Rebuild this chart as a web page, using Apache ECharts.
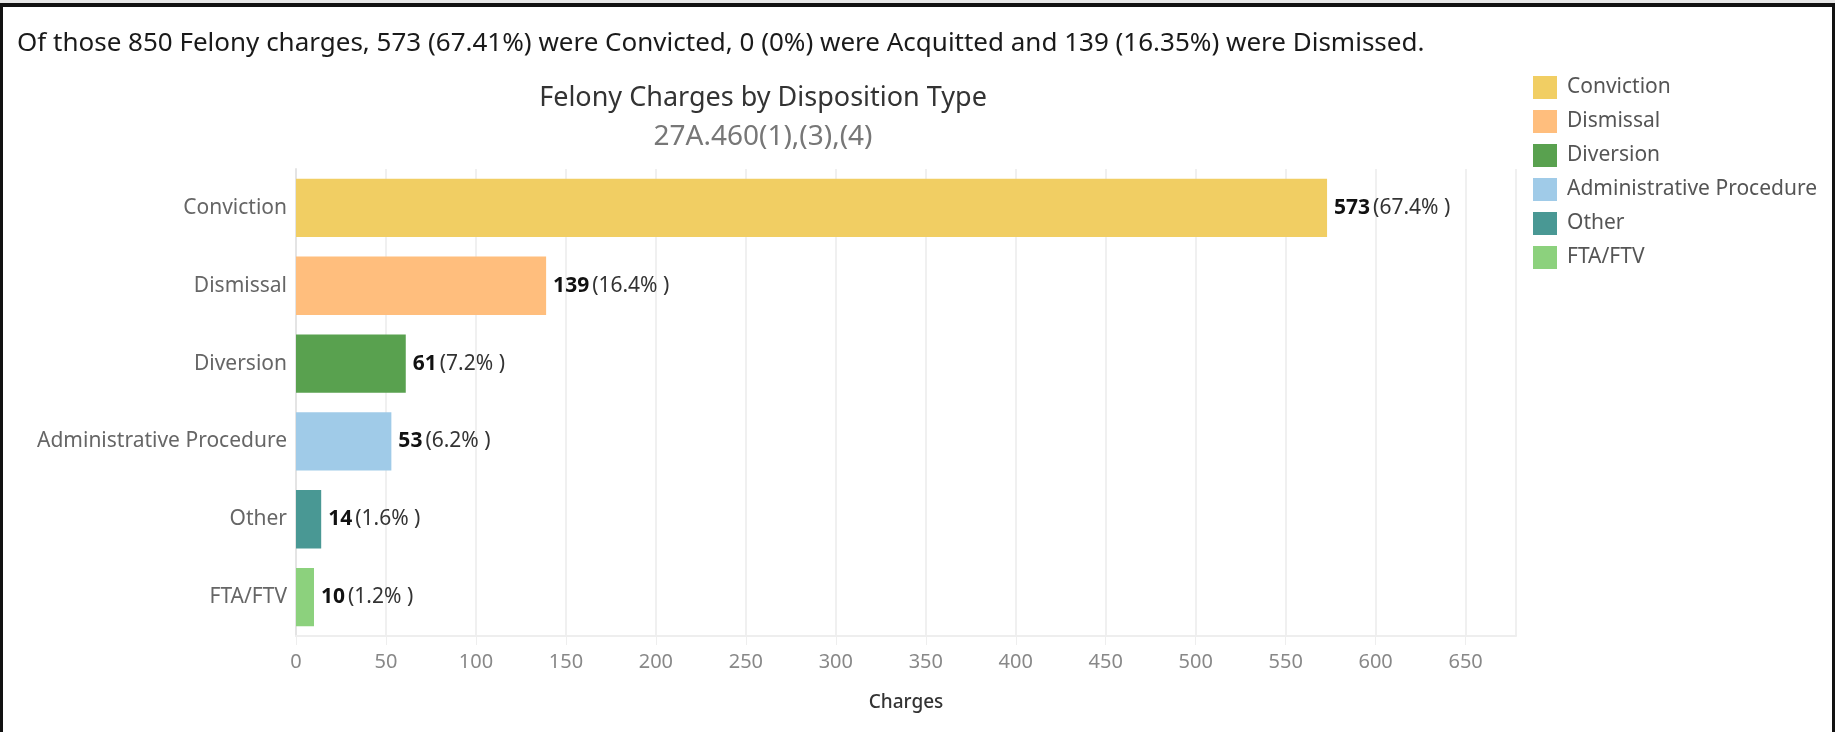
<!DOCTYPE html>
<html>
<head>
<meta charset="utf-8">
<title>Felony Charges by Disposition Type</title>
<script src="https://cdn.jsdelivr.net/npm/echarts@6/dist/echarts.min.js"></script>
<style>
    html, body { margin: 0; padding: 0; background: #fff; }
    #wrap { position: relative; width: 1835px; height: 732px; background: #e6e6e6; }
    #chart1 { position: absolute; left: 0; top: 3px; width: 1835px; height: 729px; background: #fff; }
    #frame {
        position: absolute; left: 0; top: 3px; width: 1835px; height: 729px;
        box-sizing: border-box; pointer-events: none;
        border-top: 4px solid #111; border-left: 3px solid #111; border-right: 3px solid #111;
    }
</style>
</head>
<body>
<div id="wrap">
    <div id="chart1"></div>
    <div id="frame"></div>
</div>
<script>
// 数据
var categories = ['Conviction', 'Dismissal', 'Diversion', 'Administrative Procedure', 'Other', 'FTA/FTV'];
var charges = [573, 139, 61, 53, 14, 10];
var percentLabels = ['67.4%', '16.4%', '7.2%', '6.2%', '1.6%', '1.2%'];
var barColors = ['#F1CE63', '#FFBE7D', '#59A14F', '#A0CBE8', '#499894', '#8CD17D'];
var xTicks = [0, 50, 100, 150, 200, 250, 300, 350, 400, 450, 500, 550, 600, 650];
var headline = 'Of those 850 Felony charges, 573 (67.41%) were Convicted, 0 (0%) were Acquitted and 139 (16.35%) were Dismissed.';
var chartTitle = 'Felony Charges by Disposition Type';
var chartSubtitle = '27A.460(1),(3),(4)';

(function () {
    var myChart = echarts.init(document.querySelector("#chart1"));
    var font = 'Noto Sans';

    // 每个类别一个系列，叠在一起，这样图例能一项一色
    var series = categories.map(function (name, i) {
        var data = categories.map(function (c, j) { return j === i ? charges[j] : '-'; });
        return {
            name: name,
            type: 'bar',
            stack: 'all',
            barCategoryGap: '25%',
            itemStyle: { color: barColors[i] },
            data: data,
            label: {
                show: true,
                position: 'right',
                distance: 7,
                formatter: function (p) {
                    return '{v|' + p.value + '}{p|(' + percentLabels[p.dataIndex] + ' )}';
                },
                rich: {
                    v: { fontFamily: font, fontSize: 21, fontWeight: 'bold', color: '#111', padding: [0, 3, 0, 0] },
                    p: { fontFamily: font, fontSize: 21, color: '#333' }
                }
            }
        };
    });

    option = {
        animation: false,
        backgroundColor: '#fff',
        textStyle: { fontFamily: font },
        title: [
            {
                text: headline,
                left: 12, top: 23,
                textStyle: { fontFamily: font, fontSize: 26, fontWeight: 'normal', color: '#1a1a1a' }
            },
            {
                text: chartTitle,
                left: 758, top: 77, textAlign: 'center',
                textStyle: { fontFamily: font, fontSize: 27, fontWeight: 'normal', color: '#333' }
            },
            {
                text: chartSubtitle,
                left: 758, top: 115, textAlign: 'center',
                textStyle: { fontFamily: font, fontSize: 28, fontWeight: 'normal', color: '#777' }
            }
        ],
        legend: {
            orient: 'vertical',
            left: 1533,
            top: 73,
            itemWidth: 24,
            itemHeight: 23,
            itemGap: 11,
            icon: 'rect',
            padding: 0,
            data: categories,
            textStyle: { fontFamily: font, fontSize: 21, color: '#555', padding: [0, 0, 0, 5] }
        },
        grid: {
            left: 296,
            right: 319,
            top: 166,
            bottom: 96,
            containLabel: false
        },
        xAxis: {
            type: 'value',
            min: 0,
            max: 678,
            interval: 50,
            name: 'Charges',
            nameLocation: 'middle',
            nameGap: 57,
            nameTextStyle: { fontFamily: font, fontSize: 19, fontWeight: 500, color: '#333' },
            axisLine: { show: true, lineStyle: { color: '#eeeeee', width: 2 } },
            axisTick: { show: true, length: 9, lineStyle: { color: '#eeeeee' } },
            splitLine: { show: true, lineStyle: { color: '#f0f0f0', width: 2 } },
            axisLabel: {
                margin: 16,
                fontFamily: font,
                fontSize: 20,
                color: '#888',
                showMaxLabel: false,
                formatter: function (v) { return xTicks.indexOf(v) >= 0 ? v : ''; }
            }
        },
        yAxis: {
            type: 'category',
            inverse: true,
            data: categories,
            axisLine: { show: true, lineStyle: { color: '#e4e4e4', width: 2 } },
            axisTick: { show: false },
            axisLabel: { margin: 9, fontFamily: font, fontSize: 21, color: '#666' }
        },
        series: series
    };

    myChart.setOption(option);
    window.addEventListener("resize", function () {
        myChart.resize();
    });
})();
</script>
</body>
</html>
